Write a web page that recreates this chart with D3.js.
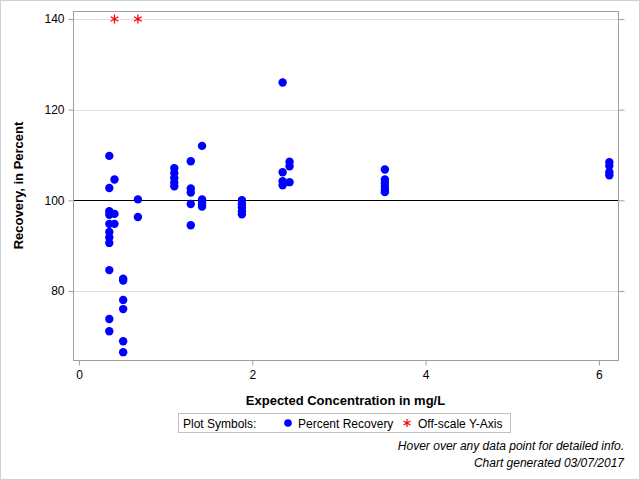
<!DOCTYPE html>
<html><head><meta charset="utf-8">
<script src="https://cdn.jsdelivr.net/npm/d3@7"></script>
<style>body{margin:0;background:#fff}svg{display:block}text{font-family:"Liberation Sans",Arial,sans-serif}</style>
</head><body><svg id="c" width="640" height="480"></svg>
<script>
const concentration = [
 0.35,0.35,0.35,0.35,0.35,0.35,0.35,0.35,0.35,0.35,0.35,
 0.41,0.41,0.41,
 0.51,0.51,0.51,0.51,0.51,0.51,
 0.68,0.68,
 1.10,1.10,1.10,1.10,1.10,
 1.29,1.29,1.29,1.29,1.29,
 1.42,1.42,1.42,1.42,1.42,
 1.88,1.88,1.88,1.88,1.88,
 2.35,2.35,2.35,2.35,
 2.43,2.43,2.43,
 3.53,3.53,3.53,3.53,3.53,3.53,
 6.12,6.12,6.12,6.12];
const recovery = [
 109.8,102.7,97.6,96.8,94.8,93.0,91.8,90.6,84.6,73.8,71.1,
 104.6,97.0,94.8,
 82.7,82.3,78.0,76.0,68.9,66.5,
 100.2,96.3,
 107.1,106.0,104.9,103.9,103.1,
 108.6,102.6,101.7,99.2,94.5,
 112.0,100.2,99.6,99.0,98.6,
 100.0,99.2,98.4,97.6,96.9,
 126.0,106.2,104.2,103.3,
 108.5,107.5,104.0,
 106.8,104.6,103.8,103.0,102.3,101.8,
 108.4,107.6,106.2,105.5];
const offscaleX = [0.41, 0.68];
const offscaleY = [140, 140];
const xTicks = [0, 2, 4, 6];
const yTicks = [80, 100, 120, 140];
const referenceY = 100;
const xTitle = "Expected Concentration in mg/L";
const yTitle = "Recovery, in Percent";
const legendTitle = "Plot Symbols:";
const legendLabels = ["Percent Recovery", "Off-scale Y-Axis"];
const footnotes = ["Hover over any data point for detailed info.", "Chart generated 03/07/2017"];

const svg = d3.select("#c");
const L = 73, R = 618, T = 11, B = 360;
const x = d3.scaleLinear().domain([-0.069, 6.22]).range([L, R]);
const y = d3.scaleLinear().domain([64.77, 141.76]).range([B, T]);

// outer border
svg.append("rect").attr("x",0.5).attr("y",0.5).attr("width",639).attr("height",479)
  .attr("fill","none").attr("stroke","#d0d0d0");

// gridlines
svg.append("g").selectAll("line").data(yTicks.filter(d=>d!==referenceY)).join("line")
  .attr("x1",L).attr("x2",R).attr("y1",d=>Math.round(y(d))+0.5).attr("y2",d=>Math.round(y(d))+0.5)
  .attr("stroke","#dedede");

// reference line
svg.append("line").attr("x1",L).attr("x2",R)
  .attr("y1",Math.round(y(referenceY))+0.5).attr("y2",Math.round(y(referenceY))+0.5)
  .attr("stroke","#000").attr("stroke-width",1.2);

// axes
const gx = svg.append("g").attr("transform",`translate(0,${B+0.5})`)
  .call(d3.axisBottom(x).tickValues(xTicks).tickFormat(d3.format("d")).tickSize(5).tickSizeOuter(0));
const gy = svg.append("g").attr("transform",`translate(${L+0.5},0)`)
  .call(d3.axisLeft(y).tickValues(yTicks).tickFormat(d3.format("d")).tickSize(5).tickSizeOuter(0));
const gr = svg.append("g").attr("transform",`translate(${R+0.5},0)`)
  .call(d3.axisRight(y).tickValues(yTicks).tickFormat("").tickSize(6).tickSizeOuter(0));
[gx,gy,gr].forEach(g=>{
  g.select(".domain").remove();
  g.selectAll("line").attr("stroke","#a0a0a0");
  g.selectAll("text").attr("fill","#000").style("font-size","12px").style("font-family","'Liberation Sans',Arial,sans-serif");
});
gx.selectAll("text").attr("dy","0.9em").attr("y",8);
gy.selectAll("text").attr("x",-9);

// frame
svg.append("rect").attr("x",L+0.5).attr("y",T+0.5).attr("width",R-L).attr("height",B-T)
  .attr("fill","none").attr("stroke","#a0a0a0");

// points
const pts = concentration.map((c,i)=>({c, r: recovery[i]}));
svg.append("g").selectAll("circle").data(pts).join("circle")
  .attr("cx",d=>x(d.c)).attr("cy",d=>y(d.r)).attr("r",4.2).attr("fill","#0000ff");

// asterisk path
function asterisk(s){
  const a = s, b = s*Math.cos(Math.PI/6), c = s*Math.sin(Math.PI/6);
  return `M0,${-a}L0,${a}M${-b},${-c}L${b},${c}M${-b},${c}L${b},${-c}`;
}
svg.append("g").selectAll("path").data(offscaleX.map((c,i)=>({c, r: offscaleY[i]}))).join("path")
  .attr("transform",d=>`translate(${x(d.c)},${y(d.r)})`)
  .attr("d",asterisk(4.5)).attr("stroke","#ff0000").attr("stroke-width",1.3).attr("fill","none");

// axis titles
svg.append("text").attr("x",(L+R)/2).attr("y",405).attr("text-anchor","middle")
  .style("font-size","13px").style("font-weight","bold").text(xTitle);
svg.append("text").attr("transform",`translate(23,${(T+B)/2}) rotate(-90)`).attr("text-anchor","middle")
  .style("font-size","13px").style("font-weight","bold").text(yTitle);

// legend
const lg = svg.append("g");
lg.append("rect").attr("x",178.5).attr("y",413.5).attr("width",332).attr("height",19)
  .attr("fill","none").attr("stroke","#c0c0c0");
lg.append("text").attr("x",183).attr("y",427.5).style("font-size","12px").text(legendTitle);
lg.append("circle").attr("cx",288).attr("cy",423).attr("r",3.8).attr("fill","#0000ff");
lg.append("text").attr("x",298).attr("y",427.5).style("font-size","12px").text(legendLabels[0]);
lg.append("path").attr("transform","translate(407,423)").attr("d",asterisk(4))
  .attr("stroke","#ff0000").attr("stroke-width",1.2).attr("fill","none");
lg.append("text").attr("x",418).attr("y",427.5).style("font-size","12px").text(legendLabels[1]);

// footnotes
svg.append("g").selectAll("text").data(footnotes).join("text")
  .attr("x",624).attr("y",(d,i)=>450+i*17).attr("text-anchor","end")
  .style("font-size","12px").style("font-style","italic").text(d=>d);
</script></body></html>
